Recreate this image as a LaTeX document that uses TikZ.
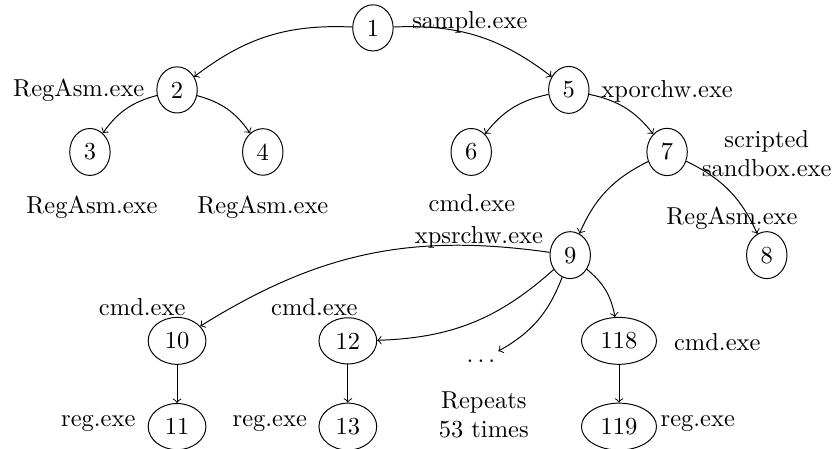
\documentclass[tikz,border=0pt]{standalone}
\usetikzlibrary{shapes.geometric}
\begin{document}
\begin{tikzpicture}
	\tikzstyle{proc}=[ellipse,draw=black]
	\tikzstyle{edge}=[draw, ->]
	\useasboundingbox (0,0) rectangle (11.95,-6.44);
	\begin{scope}
		\node [proc] (p1) at (5.35,-0.40) {1};
		\node [proc] (p2) at (2.54,-1.29) {2};
		\node [proc] (p3) at (1.29,-2.18) {3};
		\node [proc] (p4) at (3.77,-2.18) {4};
		\node [proc] (p5) at (8.16,-1.29) {5};
		\node [proc] (p6) at (6.76,-2.18) {6};
		\node [proc] (p7) at (9.57,-2.18) {7};
		\node [proc] (p8) at (11.00,-3.66) {8};
		\node [proc] (p9) at (8.18,-3.66) {9};
		\node [proc] (p10) at (2.54,-4.89) {10};
		\node [proc] (p11) at (2.54,-6.12) {11};
		\node [proc] (p12) at (4.99,-4.89) {12};
		\node [proc] (p13) at (4.99,-6.12) {13};
		\node [proc] (p118) at (8.88,-4.89) {118};
		\node [proc] (p119) at (8.88,-6.12) {119};
		\node (dots) at (6.90,-5.18) {$\dots$};
		\node [align=center] (rep) at (6.94,-5.95) {Repeats\\53 times};
		% process names
		\node (n1) at (6.74,-0.32) {sample.exe};
		\node (n2) at (1.13,-1.30) {RegAsm.exe};
		\node (n3) at (1.32,-2.97) {RegAsm.exe};
		\node (n4) at (3.77,-2.97) {RegAsm.exe};
		\node (n5) at (9.57,-1.31) {xporchw.exe};
		\node [align=center] (n7) at (11.00,-2.20) {scripted\\sandbox.exe};
		\node (n6) at (6.77,-2.91) {cmd.exe};
		\node (n8) at (10.50,-3.13) {RegAsm.exe};
		\node (n9) at (6.87,-3.40) {xpsrchw.exe};
		\node (n10) at (2.04,-4.40) {cmd.exe};
		\node (n12) at (4.51,-4.40) {cmd.exe};
		\node (n118) at (10.29,-4.91) {cmd.exe};
		\node (n11) at (1.41,-6.08) {reg.exe};
		\node (n13) at (3.87,-6.08) {reg.exe};
		\node (n119) at (10.01,-6.08) {reg.exe};
		\path[edge] (p1) edge [bend right=20] (p2);
		\path[edge] (p1) edge [bend left=20] (p5);
		\path[edge] (p2) edge [bend right=20] (p3);
		\path[edge] (p2) edge [bend left=20] (p4);
		\path[edge] (p5) edge [bend right=20] (p6);
		\path[edge] (p5) edge [bend left=20] (p7);
		\path[edge] (p7) edge [bend right=20] (p9);
		\path[edge] (p7) edge [bend left=20] (p8);
		\path[edge] (p9) edge [bend right=20] (p10);
		\path[edge] (p9) edge [bend left=20] (p12);
		\path[edge] (p9) edge [bend left=20] (dots);
		\path[edge] (p9) edge [bend left=20] (p118);
		\path[edge] (p10) edge (p11);
		\path[edge] (p12) edge (p13);
		\path[edge] (p118) edge (p119);
	\end{scope}
\end{tikzpicture}
\end{document}
